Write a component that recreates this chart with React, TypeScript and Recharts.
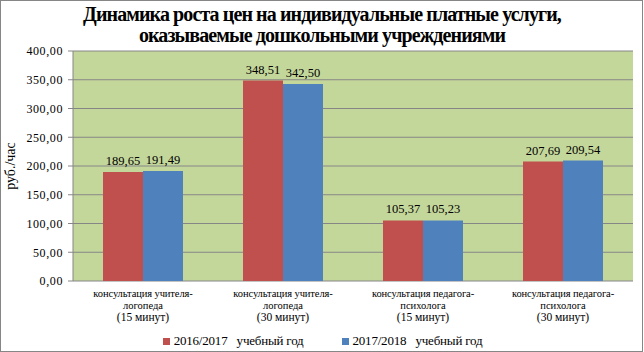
import React from 'react';
import { BarChart, Bar, XAxis, YAxis, CartesianGrid, LabelList, Legend } from 'recharts';

const categories = [
  ['консультация учителя-', 'логопеда', '(15 минут)'],
  ['консультация учителя-', 'логопеда', '(30 минут)'],
  ['консультация педагога-', 'психолога', '(15 минут)'],
  ['консультация педагога-', 'психолога', '(30 минут)'],
];
const series2016 = [189.65, 348.51, 105.37, 207.69];
const series2017 = [191.49, 342.5, 105.23, 209.54];
const yTicks = [0, 50, 100, 150, 200, 250, 300, 350, 400];
const seriesNames = ['2016/2017   учебный год', '2017/2018   учебный год'];
const titleLines = ['Динамика роста цен на индивидуальные платные услуги,', 'оказываемые дошкольными учреждениями'];

const data = categories.map((c, i) => ({
  name: c.join('\n'),
  idx: i,
  a: series2016[i],
  b: series2017[i],
}));

const FONT = 'Liberation Serif';
const RED = '#C0504D';
const BLUE = '#4F81BD';
const GREEN = '#C4D79B';
const GRID = '#868686';

const fmt = (v: number) => v.toFixed(2).replace('.', ',');

const CatTick = (props: any) => {
  const { x, payload } = props;
  const lines = String(payload.value).split('\n');
  return (
    <g>
      {lines.map((l, i) => (
        <text
          key={i}
          x={x}
          y={281 + 14 + i * 11.5}
          textAnchor="middle"
          dominantBaseline="middle"
          style={{ fontFamily: FONT, fontSize: i === 2 ? 11.5 : 10.5, letterSpacing: i === 0 ? -0.1 : 0 }}
          fill="#000"
        >
          {l}
        </text>
      ))}
    </g>
  );
};

const LegendContent = () => (
  <div
    style={{
      display: 'flex',
      justifyContent: 'center',
      alignItems: 'center',
      height: 22,
      fontFamily: FONT,
      fontSize: 13,
      letterSpacing: -0.2,
      color: '#000',
      paddingLeft: 12,
    }}
  >
    {[RED, BLUE].map((c, i) => (
      <div key={i} style={{ display: 'flex', alignItems: 'center', marginRight: i === 0 ? 38 : 0 }}>
        <span style={{ display: 'inline-block', width: 7, height: 7, background: c, marginRight: 4 }} />
        <span style={{ whiteSpace: 'pre' }}>{seriesNames[i]}</span>
      </div>
    ))}
  </div>
);

const labelStyle = { fontFamily: FONT, fontSize: 12.5, fill: '#000' };

export default function App() {
  return (
    <div style={{ position: 'absolute', left: 0, top: 0, width: 644, height: 352, background: '#fff', fontFamily: FONT }}>
      <div
        style={{
          position: 'absolute',
          left: 0,
          top: 4,
          width: 644,
          textAlign: 'center',
          fontFamily: FONT,
          fontWeight: 'bold',
          fontSize: 20,
          lineHeight: '21px',
          letterSpacing: -0.9,
          color: '#000',
        }}
      >
        {titleLines.map((t, i) => (
          <div key={i}>{t}</div>
        ))}
      </div>
      <div style={{ position: 'absolute', left: 0, top: 0 }}>
        <BarChart
          width={644}
          height={352}
          data={data}
          margin={{ top: 51, right: 11, left: 0, bottom: 0 }}
          barGap={0}
          barSize={40}
          style={{ fontFamily: FONT }}
        >
          <CartesianGrid vertical={false} stroke={GRID} fill={GREEN} fillOpacity={1} />
          <XAxis
            xAxisId="b"
            type="number"
            dataKey="idx"
            domain={[0, 4]}
            ticks={[0, 1, 2, 3, 4]}
            height={0}
            tick={false}
            tickSize={4}
            stroke={GRID}
            axisLine={{ stroke: GRID }}
            tickLine={{ stroke: GRID }}
          />
          <XAxis
            dataKey="name"
            interval={0}
            height={49}
            tick={<CatTick />}
            tickLine={false}
            axisLine={false}
          />
          <YAxis
            width={73}
            domain={[0, 400]}
            ticks={yTicks}
            tickFormatter={fmt}
            tickSize={5}
            tickMargin={5}
            stroke={GRID}
            tick={{ style: { fontFamily: FONT, fontSize: 12, letterSpacing: 0.6 }, fill: '#000' }}
            label={{
              value: 'руб./час',
              angle: -90,
              position: 'insideLeft',
              offset: 10,
              style: { fontFamily: FONT, fontSize: 14, fill: '#000', textAnchor: 'middle' },
            }}
          />
          <Legend verticalAlign="bottom" height={22} content={<LegendContent />} />
          <Bar dataKey="a" fill={RED} isAnimationActive={false}>
            <LabelList dataKey="a" position="top" offset={7} formatter={(v: any) => fmt(Number(v))} style={labelStyle} />
          </Bar>
          <Bar dataKey="b" fill={BLUE} isAnimationActive={false}>
            <LabelList dataKey="b" position="top" offset={7} formatter={(v: any) => fmt(Number(v))} style={labelStyle} />
          </Bar>
        </BarChart>
      </div>
      <div
        style={{
          position: 'absolute',
          left: 0,
          top: 0,
          width: 643,
          height: 352,
          boxSizing: 'border-box',
          border: '1px solid #868686',
          pointerEvents: 'none',
        }}
      />
    </div>
  );
}
